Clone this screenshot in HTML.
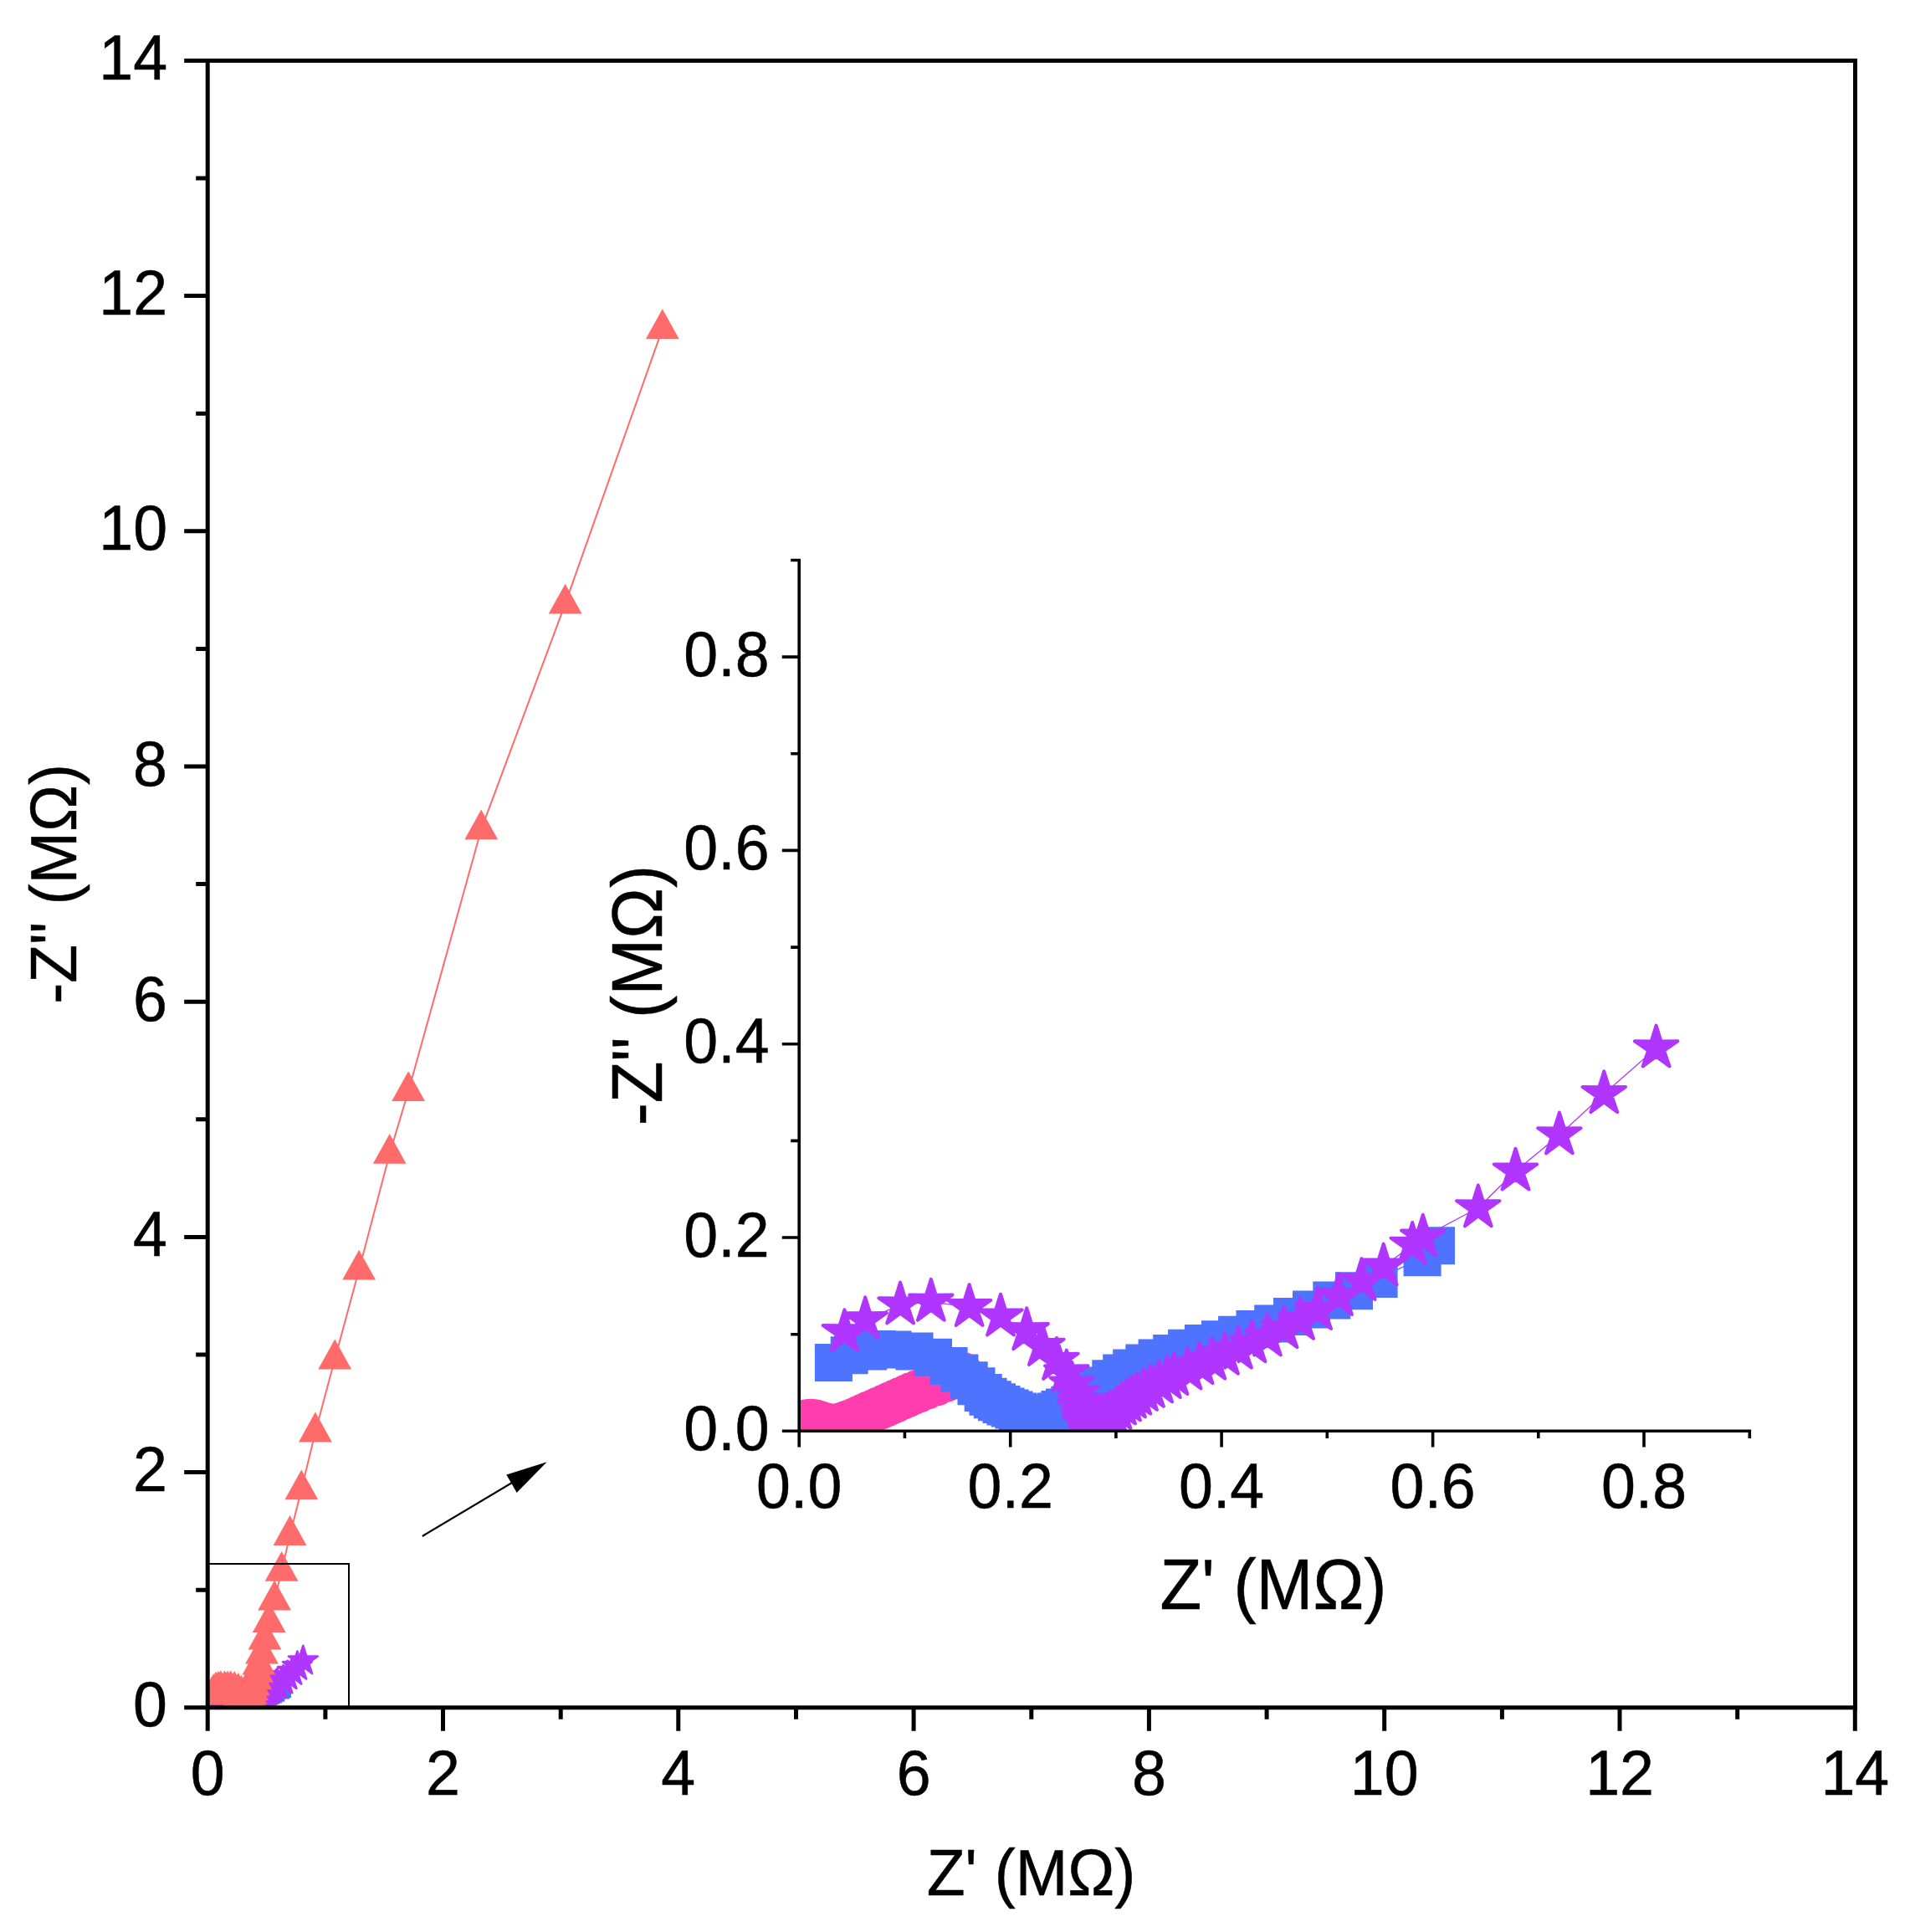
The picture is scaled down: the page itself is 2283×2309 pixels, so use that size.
<!DOCTYPE html>
<html lang="en"><head><meta charset="utf-8"><title>Nyquist plot</title>
<style>html,body{margin:0;padding:0;background:#fff}svg{display:block}</style></head>
<body>
<svg width="2283" height="2309" viewBox="0 0 2283 2309" role="img" aria-label="Nyquist plot with inset">
<rect width="2283" height="2309" fill="#fff"/>
<defs>
<clipPath id="cm"><rect x="248.2" y="72.5" width="1969.3" height="1968.3"/></clipPath>
<clipPath id="ci"><rect x="955.2" y="629.5" width="1176.1" height="1080.9"/></clipPath>
</defs>
<g clip-path="url(#cm)">
<polyline fill="none" stroke="#FF3DAE" stroke-width="1.3" points="248.3,2039.8 248.5,2039.6 248.7,2039.5 249.1,2039.4 249.4,2039.3 249.7,2039.3 250.1,2039.3 250.4,2039.4 250.7,2039.5 251.1,2039.6 251.4,2039.7 251.7,2039.8 252.1,2039.9 252.5,2040 252.9,2040 253.2,2039.9 253.6,2039.8 254.1,2039.7 254.5,2039.5 255.1,2039.3 255.6,2039 256.3,2038.7 256.9,2038.4 257.5,2038.1 258.2,2037.8 258.9,2037.5 259.7,2037.1 260.4,2036.7 261.1,2036.4 261.8,2036.1 262.6,2035.7 263.3,2035.4 264.1,2035 265.2,2034.5 266.5,2034 267.7,2033.5 268.8,2032.9 269.8,2032.4"/>
<path fill="#FF3DAE" fill-rule="nonzero" d="M231 2039.8a17.3 17.3 0 1 0 34.6 0a17.3 17.3 0 1 0 -34.6 0ZM231.2 2039.6a17.3 17.3 0 1 0 34.6 0a17.3 17.3 0 1 0 -34.6 0ZM231.4 2039.5a17.3 17.3 0 1 0 34.6 0a17.3 17.3 0 1 0 -34.6 0ZM231.8 2039.4a17.3 17.3 0 1 0 34.6 0a17.3 17.3 0 1 0 -34.6 0ZM232.1 2039.3a17.3 17.3 0 1 0 34.6 0a17.3 17.3 0 1 0 -34.6 0ZM232.4 2039.3a17.3 17.3 0 1 0 34.6 0a17.3 17.3 0 1 0 -34.6 0ZM232.8 2039.3a17.3 17.3 0 1 0 34.6 0a17.3 17.3 0 1 0 -34.6 0ZM233.1 2039.4a17.3 17.3 0 1 0 34.6 0a17.3 17.3 0 1 0 -34.6 0ZM233.4 2039.5a17.3 17.3 0 1 0 34.6 0a17.3 17.3 0 1 0 -34.6 0ZM233.8 2039.6a17.3 17.3 0 1 0 34.6 0a17.3 17.3 0 1 0 -34.6 0ZM234.1 2039.7a17.3 17.3 0 1 0 34.6 0a17.3 17.3 0 1 0 -34.6 0ZM234.4 2039.8a17.3 17.3 0 1 0 34.6 0a17.3 17.3 0 1 0 -34.6 0ZM234.8 2039.9a17.3 17.3 0 1 0 34.6 0a17.3 17.3 0 1 0 -34.6 0ZM235.2 2040a17.3 17.3 0 1 0 34.6 0a17.3 17.3 0 1 0 -34.6 0ZM235.6 2040a17.3 17.3 0 1 0 34.6 0a17.3 17.3 0 1 0 -34.6 0ZM235.9 2039.9a17.3 17.3 0 1 0 34.6 0a17.3 17.3 0 1 0 -34.6 0ZM236.3 2039.8a17.3 17.3 0 1 0 34.6 0a17.3 17.3 0 1 0 -34.6 0ZM236.8 2039.7a17.3 17.3 0 1 0 34.6 0a17.3 17.3 0 1 0 -34.6 0ZM237.2 2039.5a17.3 17.3 0 1 0 34.6 0a17.3 17.3 0 1 0 -34.6 0ZM237.8 2039.3a17.3 17.3 0 1 0 34.6 0a17.3 17.3 0 1 0 -34.6 0ZM238.3 2039a17.3 17.3 0 1 0 34.6 0a17.3 17.3 0 1 0 -34.6 0ZM239 2038.7a17.3 17.3 0 1 0 34.6 0a17.3 17.3 0 1 0 -34.6 0ZM239.6 2038.4a17.3 17.3 0 1 0 34.6 0a17.3 17.3 0 1 0 -34.6 0ZM240.2 2038.1a17.3 17.3 0 1 0 34.6 0a17.3 17.3 0 1 0 -34.6 0ZM240.9 2037.8a17.3 17.3 0 1 0 34.6 0a17.3 17.3 0 1 0 -34.6 0ZM241.6 2037.5a17.3 17.3 0 1 0 34.6 0a17.3 17.3 0 1 0 -34.6 0ZM242.4 2037.1a17.3 17.3 0 1 0 34.6 0a17.3 17.3 0 1 0 -34.6 0ZM243.1 2036.7a17.3 17.3 0 1 0 34.6 0a17.3 17.3 0 1 0 -34.6 0ZM243.8 2036.4a17.3 17.3 0 1 0 34.6 0a17.3 17.3 0 1 0 -34.6 0ZM244.5 2036.1a17.3 17.3 0 1 0 34.6 0a17.3 17.3 0 1 0 -34.6 0ZM245.3 2035.7a17.3 17.3 0 1 0 34.6 0a17.3 17.3 0 1 0 -34.6 0ZM246 2035.4a17.3 17.3 0 1 0 34.6 0a17.3 17.3 0 1 0 -34.6 0ZM246.8 2035a17.3 17.3 0 1 0 34.6 0a17.3 17.3 0 1 0 -34.6 0ZM247.9 2034.5a17.3 17.3 0 1 0 34.6 0a17.3 17.3 0 1 0 -34.6 0ZM249.2 2034a17.3 17.3 0 1 0 34.6 0a17.3 17.3 0 1 0 -34.6 0ZM250.4 2033.5a17.3 17.3 0 1 0 34.6 0a17.3 17.3 0 1 0 -34.6 0ZM251.5 2032.9a17.3 17.3 0 1 0 34.6 0a17.3 17.3 0 1 0 -34.6 0ZM252.5 2032.4a17.3 17.3 0 1 0 34.6 0a17.3 17.3 0 1 0 -34.6 0Z"/>
<polyline fill="none" stroke="#4D73FF" stroke-width="1.3" points="252.8,2030.9 254.9,2029.8 257.4,2029.2 258.6,2028.9 260.7,2029 263.6,2029.2 266.1,2030.1 268.1,2031.3 269.6,2032.4 270.8,2033.4 271.8,2034.3 272.7,2035.2 273.4,2035.8 273.9,2036.2 274.5,2036.6 275.1,2036.9 275.7,2037.2 276.3,2037.5 276.8,2037.7 277.3,2038 277.8,2038.2 278.3,2038.4 278.7,2038.7 279.2,2038.9 279.6,2039.2 280,2039.4 280.5,2039.2 280.9,2038.9 281.4,2038.6 281.9,2038.3 282.4,2038 282.9,2037.7 283.6,2037.4 284.3,2037 285.1,2036.5 286,2035.8 287.1,2035.1 288.3,2034.2 289.7,2033.2 291.2,2032.4 292.5,2031.6 294.2,2030.9 295.9,2030.2 297.8,2029.5 299.8,2028.8 302,2028 304.3,2027.5 306.5,2026.8 308.9,2026 311.3,2025.2 313.9,2024.2 316.4,2023.1 319.1,2021.8 322.1,2020.4 325.4,2018.7 331.2,2015.6 333,2013.9"/>
<path fill="#4D73FF" fill-rule="nonzero" d="M237.8 2015.9h30v30h-30ZM239.9 2014.8h30v30h-30ZM242.4 2014.2h30v30h-30ZM243.6 2013.9h30v30h-30ZM245.7 2014h30v30h-30ZM248.6 2014.2h30v30h-30ZM251.1 2015.1h30v30h-30ZM253.1 2016.3h30v30h-30ZM254.6 2017.4h30v30h-30ZM255.8 2018.4h30v30h-30ZM256.8 2019.3h30v30h-30ZM257.7 2020.2h30v30h-30ZM258.4 2020.8h30v30h-30ZM258.9 2021.2h30v30h-30ZM259.5 2021.6h30v30h-30ZM260.1 2021.9h30v30h-30ZM260.7 2022.2h30v30h-30ZM261.3 2022.5h30v30h-30ZM261.8 2022.7h30v30h-30ZM262.3 2023h30v30h-30ZM262.8 2023.2h30v30h-30ZM263.3 2023.4h30v30h-30ZM263.7 2023.7h30v30h-30ZM264.2 2023.9h30v30h-30ZM264.6 2024.2h30v30h-30ZM265 2024.4h30v30h-30ZM265.5 2024.2h30v30h-30ZM265.9 2023.9h30v30h-30ZM266.4 2023.6h30v30h-30ZM266.9 2023.3h30v30h-30ZM267.4 2023h30v30h-30ZM267.9 2022.7h30v30h-30ZM268.6 2022.4h30v30h-30ZM269.3 2022h30v30h-30ZM270.1 2021.5h30v30h-30ZM271 2020.8h30v30h-30ZM272.1 2020.1h30v30h-30ZM273.3 2019.2h30v30h-30ZM274.7 2018.2h30v30h-30ZM276.2 2017.4h30v30h-30ZM277.5 2016.6h30v30h-30ZM279.2 2015.9h30v30h-30ZM280.9 2015.2h30v30h-30ZM282.8 2014.5h30v30h-30ZM284.8 2013.8h30v30h-30ZM287 2013h30v30h-30ZM289.3 2012.5h30v30h-30ZM291.5 2011.8h30v30h-30ZM293.9 2011h30v30h-30ZM296.3 2010.2h30v30h-30ZM298.9 2009.2h30v30h-30ZM301.4 2008.1h30v30h-30ZM304.1 2006.8h30v30h-30ZM307.1 2005.4h30v30h-30ZM310.4 2003.7h30v30h-30ZM316.2 2000.6h30v30h-30ZM318 1998.9h30v30h-30Z"/>
<polyline fill="none" stroke="#B035FF" stroke-width="1.3" points="254.2,2026.4 257,2024.6 261.7,2022.5 265.8,2022 270.9,2022.8 275,2024.2 278.5,2026.2 280.6,2028.5 282.5,2030.5 283.8,2032.3 284.5,2034 285.2,2035.4 285.6,2036.5 285.9,2037.4 286.1,2038.2 286.2,2038.8 286.2,2039.3 286.3,2039.7 286.5,2039.9 286.8,2039.8 287.2,2039.7 287.7,2039.4 288.2,2039.2 288.7,2038.9 289.3,2038.6 290,2038.3 290.6,2037.7 291.2,2037 291.9,2036.6 292.5,2036.1 293.2,2035.6 294.1,2035 295,2034.6 296.1,2033.9 297.2,2033.2 298.1,2032.8 299.9,2032 301.5,2031.2 303.2,2030.5 304.9,2029.8 306.7,2028.9 308.5,2028 310.6,2027.1 312.7,2026 314.9,2024.7 317.3,2023.3 320,2021.2 323.1,2019 326,2016.9 329.9,2013.8 331.3,2012.6 338.6,2008.4 343.6,2003 349.5,1997.8 355.4,1991.8 362.3,1985.1"/>
<path fill="#B035FF" fill-rule="nonzero" stroke="#B035FF" stroke-width="2.7" stroke-linejoin="round" d="M254.2 2008.2L258.2 2021L271.5 2020.8L260.6 2028.5L264.9 2041.2L254.2 2033.2L243.5 2041.2L247.8 2028.5L236.9 2020.8L250.3 2021ZM257 2006.4L261 2019.2L274.3 2019L263.4 2026.7L267.7 2039.4L257 2031.4L246.3 2039.4L250.6 2026.7L239.7 2019L253 2019.2ZM261.7 2004.3L265.6 2017L279 2016.8L268.1 2024.6L272.4 2037.2L261.7 2029.2L251 2037.2L255.3 2024.6L244.4 2016.8L257.7 2017ZM265.8 2003.8L269.7 2016.6L283.1 2016.4L272.2 2024.1L276.5 2036.7L265.8 2028.8L255.1 2036.7L259.4 2024.1L248.5 2016.4L261.8 2016.6ZM270.9 2004.6L274.8 2017.3L288.2 2017.2L277.3 2024.9L281.6 2037.5L270.9 2029.5L260.2 2037.5L264.5 2024.9L253.6 2017.2L266.9 2017.3ZM275 2006L279 2018.7L292.3 2018.6L281.4 2026.3L285.7 2038.9L275 2030.9L264.3 2038.9L268.6 2026.3L257.7 2018.6L271.1 2018.7ZM278.5 2008L282.5 2020.8L295.8 2020.6L284.9 2028.3L289.2 2040.9L278.5 2033L267.8 2040.9L272.1 2028.3L261.2 2020.6L274.5 2020.8ZM280.6 2010.3L284.5 2023L297.9 2022.9L287 2030.6L291.3 2043.2L280.6 2035.2L269.9 2043.2L274.2 2030.6L263.3 2022.9L276.6 2023ZM282.5 2012.3L286.5 2025.1L299.8 2024.9L288.9 2032.6L293.2 2045.3L282.5 2037.3L271.8 2045.3L276.1 2032.6L265.2 2024.9L278.5 2025.1ZM283.8 2014.1L287.8 2026.9L301.1 2026.7L290.2 2034.4L294.5 2047L283.8 2039.1L273.1 2047L277.4 2034.4L266.5 2026.7L279.9 2026.9ZM284.5 2015.8L288.5 2028.6L301.8 2028.4L290.9 2036.1L295.2 2048.8L284.5 2040.8L273.8 2048.8L278.1 2036.1L267.2 2028.4L280.6 2028.6ZM285.2 2017.2L289.1 2030L302.5 2029.8L291.6 2037.5L295.9 2050.1L285.2 2042.1L274.5 2050.1L278.8 2037.5L267.9 2029.8L281.2 2030ZM285.6 2018.3L289.6 2031.1L302.9 2030.9L292 2038.6L296.3 2051.2L285.6 2043.2L274.9 2051.2L279.2 2038.6L268.3 2030.9L281.7 2031.1ZM285.9 2019.2L289.9 2032L303.2 2031.8L292.3 2039.5L296.6 2052.1L285.9 2044.1L275.2 2052.1L279.5 2039.5L268.6 2031.8L281.9 2032ZM286.1 2020L290 2032.8L303.4 2032.6L292.5 2040.3L296.8 2052.9L286.1 2044.9L275.4 2052.9L279.7 2040.3L268.8 2032.6L282.1 2032.8ZM286.2 2020.6L290.1 2033.4L303.5 2033.2L292.6 2040.9L296.9 2053.5L286.2 2045.5L275.5 2053.5L279.8 2040.9L268.9 2033.2L282.2 2033.4ZM286.2 2021.1L290.2 2033.9L303.5 2033.7L292.6 2041.4L296.9 2054L286.2 2046L275.5 2054L279.8 2041.4L268.9 2033.7L282.3 2033.9ZM286.3 2021.5L290.2 2034.3L303.6 2034.1L292.7 2041.8L297 2054.4L286.3 2046.5L275.6 2054.4L279.9 2041.8L269 2034.1L282.3 2034.3ZM286.5 2021.7L290.5 2034.5L303.8 2034.3L292.9 2042L297.2 2054.6L286.5 2046.6L275.8 2054.6L280.1 2042L269.2 2034.3L282.5 2034.5ZM286.8 2021.6L290.8 2034.4L304.2 2034.2L293.2 2041.9L297.5 2054.6L286.8 2046.6L276.1 2054.6L280.4 2041.9L269.5 2034.2L282.9 2034.4ZM287.2 2021.5L291.2 2034.2L304.5 2034L293.6 2041.7L297.9 2054.4L287.2 2046.4L276.5 2054.4L280.8 2041.7L269.9 2034L283.3 2034.2ZM287.7 2021.2L291.6 2034L305 2033.8L294.1 2041.5L298.4 2054.1L287.7 2046.2L277 2054.1L281.3 2041.5L270.4 2033.8L283.7 2034ZM288.2 2021L292.1 2033.7L305.5 2033.6L294.6 2041.3L298.9 2053.9L288.2 2045.9L277.5 2053.9L281.8 2041.3L270.9 2033.6L284.2 2033.7ZM288.7 2020.7L292.7 2033.4L306 2033.2L295.1 2041L299.4 2053.6L288.7 2045.6L278 2053.6L282.3 2041L271.4 2033.2L284.8 2033.4ZM289.3 2020.4L293.3 2033.2L306.6 2033L295.7 2040.7L300 2053.4L289.3 2045.4L278.6 2053.4L282.9 2040.7L272 2033L285.3 2033.2ZM290 2020.1L293.9 2032.9L307.3 2032.7L296.4 2040.4L300.7 2053.1L290 2045.1L279.3 2053.1L283.6 2040.4L272.7 2032.7L286 2032.9ZM290.6 2019.5L294.5 2032.3L307.9 2032.1L297 2039.8L301.3 2052.4L290.6 2044.5L279.9 2052.4L284.2 2039.8L273.3 2032.1L286.6 2032.3ZM291.2 2018.8L295.1 2031.6L308.5 2031.4L297.6 2039.1L301.9 2051.8L291.2 2043.8L280.5 2051.8L284.8 2039.1L273.9 2031.4L287.2 2031.6ZM291.9 2018.4L295.8 2031.1L309.2 2030.9L298.3 2038.6L302.6 2051.3L291.9 2043.3L281.2 2051.3L285.5 2038.6L274.5 2030.9L287.9 2031.1ZM292.5 2017.9L296.5 2030.6L309.8 2030.5L298.9 2038.2L303.2 2050.8L292.5 2042.8L281.8 2050.8L286.1 2038.2L275.2 2030.5L288.6 2030.6ZM293.2 2017.4L297.2 2030.2L310.5 2030L299.6 2037.7L303.9 2050.4L293.2 2042.4L282.5 2050.4L286.8 2037.7L275.9 2030L289.3 2030.2ZM294.1 2016.8L298 2029.6L311.4 2029.4L300.5 2037.1L304.8 2049.8L294.1 2041.8L283.4 2049.8L287.7 2037.1L276.8 2029.4L290.1 2029.6ZM295 2016.4L298.9 2029.1L312.3 2028.9L301.4 2036.6L305.7 2049.3L295 2041.3L284.3 2049.3L288.6 2036.6L277.7 2028.9L291 2029.1ZM296.1 2015.7L300.1 2028.4L313.4 2028.3L302.5 2036L306.8 2048.6L296.1 2040.6L285.4 2048.6L289.7 2036L278.8 2028.3L292.2 2028.4ZM297.2 2015L301.1 2027.8L314.5 2027.6L303.6 2035.3L307.9 2048L297.2 2040L286.5 2048L290.8 2035.3L279.9 2027.6L293.2 2027.8ZM298.1 2014.6L302.1 2027.3L315.4 2027.1L304.5 2034.8L308.8 2047.5L298.1 2039.5L287.4 2047.5L291.7 2034.8L280.8 2027.1L294.2 2027.3ZM299.9 2013.8L303.9 2026.5L317.2 2026.3L306.3 2034L310.6 2046.7L299.9 2038.7L289.2 2046.7L293.5 2034L282.6 2026.3L296 2026.5ZM301.5 2013L305.5 2025.7L318.8 2025.6L307.9 2033.3L312.2 2045.9L301.5 2037.9L290.8 2045.9L295.1 2033.3L284.2 2025.6L297.5 2025.7ZM303.2 2012.3L307.1 2025.1L320.5 2024.9L309.6 2032.6L313.9 2045.2L303.2 2037.3L292.5 2045.2L296.7 2032.6L285.8 2024.9L299.2 2025.1ZM304.9 2011.6L308.9 2024.3L322.2 2024.2L311.3 2031.9L315.6 2044.5L304.9 2036.5L294.2 2044.5L298.5 2031.9L287.6 2024.2L300.9 2024.3ZM306.7 2010.7L310.6 2023.5L324 2023.3L313.1 2031L317.4 2043.7L306.7 2035.7L296 2043.7L300.3 2031L289.4 2023.3L302.7 2023.5ZM308.5 2009.8L312.5 2022.6L325.8 2022.4L314.9 2030.1L319.2 2042.8L308.5 2034.8L297.8 2042.8L302.1 2030.1L291.2 2022.4L304.6 2022.6ZM310.6 2008.9L314.5 2021.6L327.9 2021.5L317 2029.2L321.3 2041.8L310.6 2033.8L299.9 2041.8L304.2 2029.2L293.3 2021.5L306.6 2021.6ZM312.7 2007.8L316.7 2020.5L330.1 2020.3L319.2 2028.1L323.4 2040.7L312.7 2032.7L302 2040.7L306.3 2028.1L295.4 2020.3L308.8 2020.5ZM314.9 2006.5L318.9 2019.3L332.2 2019.1L321.3 2026.8L325.6 2039.4L314.9 2031.4L304.2 2039.4L308.5 2026.8L297.6 2019.1L311 2019.3ZM317.3 2005.1L321.2 2017.8L334.6 2017.7L323.7 2025.4L328 2038L317.3 2030L306.6 2038L310.9 2025.4L300 2017.7L313.3 2017.8ZM320 2003L324 2015.8L337.4 2015.6L326.5 2023.3L330.7 2035.9L320 2027.9L309.3 2035.9L313.6 2023.3L302.7 2015.6L316.1 2015.8ZM323.1 2000.8L327.1 2013.6L340.4 2013.4L329.5 2021.1L333.8 2033.7L323.1 2025.8L312.4 2033.7L316.7 2021.1L305.8 2013.4L319.2 2013.6ZM326 1998.7L330 2011.4L343.3 2011.3L332.4 2019L336.7 2031.6L326 2023.6L315.3 2031.6L319.6 2019L308.7 2011.3L322.1 2011.4ZM329.9 1995.6L333.8 2008.3L347.2 2008.1L336.3 2015.8L340.6 2028.5L329.9 2020.5L319.2 2028.5L323.5 2015.8L312.6 2008.1L325.9 2008.3ZM331.3 1994.4L335.2 2007.2L348.6 2007L337.7 2014.7L342 2027.4L331.3 2019.4L320.6 2027.4L324.9 2014.7L314 2007L327.3 2007.2ZM338.6 1990.2L342.6 2002.9L355.9 2002.7L345 2010.4L349.3 2023.1L338.6 2015.1L327.9 2023.1L332.2 2010.4L321.3 2002.7L334.7 2002.9ZM343.6 1984.8L347.6 1997.6L360.9 1997.4L350 2005.1L354.3 2017.8L343.6 2009.8L332.9 2017.8L337.2 2005.1L326.3 1997.4L339.7 1997.6ZM349.5 1979.6L353.4 1992.3L366.8 1992.2L355.9 1999.9L360.1 2012.5L349.5 2004.5L338.8 2012.5L343 1999.9L332.1 1992.2L345.5 1992.3ZM355.4 1973.6L359.4 1986.4L372.7 1986.2L361.8 1993.9L366.1 2006.5L355.4 1998.5L344.7 2006.5L349 1993.9L338.1 1986.2L351.4 1986.4ZM362.3 1966.9L366.3 1979.7L379.7 1979.5L368.7 1987.2L373 1999.9L362.3 1991.9L351.6 1999.9L355.9 1987.2L345 1979.5L358.4 1979.7Z"/>
<polyline fill="none" stroke="#FF6B6B" stroke-width="2.0" points="791.8,393.1 675.6,721.6 575.2,991.3 488.1,1304.2 465.7,1378.9 429.1,1517.7 400.2,1624.5 376.9,1711.5 360.3,1780.4 346.5,1835 336.6,1877.9 328.1,1912.5 321.7,1939 316.5,1959.5 313,1976.7 309.4,1989.5 307.2,1998.9 305.2,2007.1 302.9,2014.5 301.2,2020.3 299.7,2024.9 298.6,2028.5 297.7,2031.3 297,2033.5 296,2036.2 295,2034.2 293.5,2031.7 291.5,2029.2 288.5,2026 284.8,2022.9 280.3,2020.9 275.6,2020.1 272,2020.5 268.5,2020.1 263.9,2020.1 261,2020.6 258,2021.7 255.2,2024.2 253,2027.7 251.5,2031.7 250.5,2035.7 249.8,2039.7 249.3,2042.7 249,2045.2"/>
<path fill="#FF6B6B" fill-rule="nonzero" d="M791.8 369.2L811.7 405L771.9 405ZM675.6 697.7L695.5 733.5L655.7 733.5ZM575.2 967.4L595.1 1003.2L555.3 1003.2ZM488.1 1280.3L508 1316.1L468.2 1316.1ZM465.7 1355L485.6 1390.8L445.8 1390.8ZM429.1 1493.8L449 1529.6L409.2 1529.6ZM400.2 1600.6L420.1 1636.4L380.3 1636.4ZM376.9 1687.6L396.8 1723.4L357 1723.4ZM360.3 1756.5L380.2 1792.3L340.4 1792.3ZM346.5 1811.1L366.4 1846.9L326.6 1846.9ZM336.6 1854L356.5 1889.8L316.7 1889.8ZM328.1 1888.6L348 1924.4L308.2 1924.4ZM321.7 1915.1L341.6 1950.9L301.8 1950.9ZM316.5 1935.6L336.4 1971.4L296.6 1971.4ZM313 1952.8L332.9 1988.6L293.1 1988.6ZM309.4 1965.6L329.3 2001.4L289.5 2001.4ZM307.2 1975L327.1 2010.8L287.3 2010.8ZM305.2 1983.2L325.1 2019L285.3 2019ZM302.9 1990.6L322.8 2026.4L283 2026.4ZM301.2 1996.4L321.1 2032.2L281.3 2032.2ZM299.7 2001L319.6 2036.8L279.8 2036.8ZM298.6 2004.6L318.5 2040.4L278.7 2040.4ZM297.7 2007.4L317.6 2043.2L277.8 2043.2ZM297 2009.6L316.9 2045.4L277.1 2045.4ZM296 2012.3L315.9 2048.1L276.1 2048.1ZM295 2010.3L314.9 2046.1L275.1 2046.1ZM293.5 2007.8L313.4 2043.6L273.6 2043.6ZM291.5 2005.3L311.4 2041.1L271.6 2041.1ZM288.5 2002.1L308.4 2037.9L268.6 2037.9ZM284.8 1999L304.7 2034.8L264.9 2034.8ZM280.3 1997L300.2 2032.8L260.4 2032.8ZM275.6 1996.2L295.5 2032L255.7 2032ZM272 1996.6L291.9 2032.4L252.1 2032.4ZM268.5 1996.2L288.4 2032L248.6 2032ZM263.9 1996.2L283.8 2032L244 2032ZM261 1996.7L280.9 2032.5L241.1 2032.5ZM258 1997.8L277.9 2033.6L238.1 2033.6ZM255.2 2000.3L275.1 2036.1L235.3 2036.1ZM253 2003.8L272.9 2039.6L233.1 2039.6ZM251.5 2007.8L271.4 2043.6L231.6 2043.6ZM250.5 2011.8L270.4 2047.6L230.6 2047.6ZM249.8 2015.8L269.7 2051.6L229.9 2051.6ZM249.3 2018.8L269.2 2054.6L229.4 2054.6ZM249 2021.3L268.9 2057.1L229.1 2057.1Z"/>
<rect x="250.3" y="2037.3" width="16.6" height="1.6" fill="#B035FF"/>
</g>
<path d="M248.2 1869H417V2040.8" fill="none" stroke="#000" stroke-width="2"/>
<line x1="504.8" y1="1836" x2="630" y2="1761.3" stroke="#000" stroke-width="2.2"/>
<path d="M653.7 1747.2L605.3 1762.4L617.7 1783.9Z" fill="#000"/>
<g stroke="#000" stroke-width="5" fill="none" stroke-linecap="butt">
<rect x="248.2" y="72.5" width="1969.3" height="1968.3"/>
<path d="M248.2 2040.8v28M248.2 2040.8h-28M388.9 2040.8v14M248.2 1900.2h-14M529.5 2040.8v28M248.2 1759.6h-28M670.2 2040.8v14M248.2 1619h-14M810.8 2040.8v28M248.2 1478.4h-28M951.5 2040.8v14M248.2 1337.8h-14M1092.1 2040.8v28M248.2 1197.2h-28M1232.8 2040.8v14M248.2 1056.6h-14M1373.4 2040.8v28M248.2 916h-28M1514.1 2040.8v14M248.2 775.4h-14M1654.7 2040.8v28M248.2 634.8h-28M1795.4 2040.8v14M248.2 494.2h-14M1936 2040.8v28M248.2 353.6h-28M2076.7 2040.8v14M248.2 213h-14M2217.3 2040.8v28M248.2 72.4h-28"/>
</g>
<g clip-path="url(#ci)">
<polyline fill="none" stroke="#FF3DAE" stroke-width="1.3" points="956,1702 958,1700.5 960,1699.5 963,1698.5 966,1698 969,1697.8 972,1698 975,1698.6 978,1699.5 981,1700.5 984,1701.5 987,1702.3 990,1703 993.5,1703.4 997,1703.5 1000.5,1703.2 1004,1702.5 1008,1701.3 1012,1699.8 1017,1697.9 1022,1695.9 1027.5,1693.4 1033,1690.9 1039,1688.2 1045.2,1685.7 1051,1683 1058,1680 1064.5,1677 1071,1674.2 1077.5,1671.3 1084,1668.5 1090.5,1665.6 1097.6,1662.7 1108,1658.4 1119,1654.4 1130,1649.9 1140,1645.4 1149,1641.3"/>
<path fill="#FF3DAE" fill-rule="nonzero" d="M930 1702a26 26 0 1 0 52 0a26 26 0 1 0 -52 0ZM932 1700.5a26 26 0 1 0 52 0a26 26 0 1 0 -52 0ZM934 1699.5a26 26 0 1 0 52 0a26 26 0 1 0 -52 0ZM937 1698.5a26 26 0 1 0 52 0a26 26 0 1 0 -52 0ZM940 1698a26 26 0 1 0 52 0a26 26 0 1 0 -52 0ZM943 1697.8a26 26 0 1 0 52 0a26 26 0 1 0 -52 0ZM946 1698a26 26 0 1 0 52 0a26 26 0 1 0 -52 0ZM949 1698.6a26 26 0 1 0 52 0a26 26 0 1 0 -52 0ZM952 1699.5a26 26 0 1 0 52 0a26 26 0 1 0 -52 0ZM955 1700.5a26 26 0 1 0 52 0a26 26 0 1 0 -52 0ZM958 1701.5a26 26 0 1 0 52 0a26 26 0 1 0 -52 0ZM961 1702.3a26 26 0 1 0 52 0a26 26 0 1 0 -52 0ZM964 1703a26 26 0 1 0 52 0a26 26 0 1 0 -52 0ZM967.5 1703.4a26 26 0 1 0 52 0a26 26 0 1 0 -52 0ZM971 1703.5a26 26 0 1 0 52 0a26 26 0 1 0 -52 0ZM974.5 1703.2a26 26 0 1 0 52 0a26 26 0 1 0 -52 0ZM978 1702.5a26 26 0 1 0 52 0a26 26 0 1 0 -52 0ZM982 1701.3a26 26 0 1 0 52 0a26 26 0 1 0 -52 0ZM986 1699.8a26 26 0 1 0 52 0a26 26 0 1 0 -52 0ZM991 1697.9a26 26 0 1 0 52 0a26 26 0 1 0 -52 0ZM996 1695.9a26 26 0 1 0 52 0a26 26 0 1 0 -52 0ZM1001.5 1693.4a26 26 0 1 0 52 0a26 26 0 1 0 -52 0ZM1007 1690.9a26 26 0 1 0 52 0a26 26 0 1 0 -52 0ZM1013 1688.2a26 26 0 1 0 52 0a26 26 0 1 0 -52 0ZM1019.2 1685.7a26 26 0 1 0 52 0a26 26 0 1 0 -52 0ZM1025 1683a26 26 0 1 0 52 0a26 26 0 1 0 -52 0ZM1032 1680a26 26 0 1 0 52 0a26 26 0 1 0 -52 0ZM1038.5 1677a26 26 0 1 0 52 0a26 26 0 1 0 -52 0ZM1045 1674.2a26 26 0 1 0 52 0a26 26 0 1 0 -52 0ZM1051.5 1671.3a26 26 0 1 0 52 0a26 26 0 1 0 -52 0ZM1058 1668.5a26 26 0 1 0 52 0a26 26 0 1 0 -52 0ZM1064.5 1665.6a26 26 0 1 0 52 0a26 26 0 1 0 -52 0ZM1071.6 1662.7a26 26 0 1 0 52 0a26 26 0 1 0 -52 0ZM1082 1658.4a26 26 0 1 0 52 0a26 26 0 1 0 -52 0ZM1093 1654.4a26 26 0 1 0 52 0a26 26 0 1 0 -52 0ZM1104 1649.9a26 26 0 1 0 52 0a26 26 0 1 0 -52 0ZM1114 1645.4a26 26 0 1 0 52 0a26 26 0 1 0 -52 0ZM1123 1641.3a26 26 0 1 0 52 0a26 26 0 1 0 -52 0Z"/>
<polyline fill="none" stroke="#4D73FF" stroke-width="1.3" points="996.4,1628.6 1015.2,1619.8 1037.7,1615.1 1048.2,1612.4 1067.1,1613 1093,1615.1 1115.5,1622.2 1134.1,1632.6 1146.9,1640.9 1158.2,1649.8 1167,1656.8 1175.2,1664.5 1181,1669.3 1186.3,1672.8 1191.5,1675.7 1197,1678.6 1202,1680.9 1207.2,1683 1212,1685 1216.5,1687 1221,1689 1225,1691 1229,1693 1233,1695 1237,1697 1241,1698.5 1245,1697 1249,1694.5 1253,1692 1257.5,1689.5 1262,1687 1267,1684.5 1272.5,1682 1278.8,1679.2 1286,1675 1294.5,1669.5 1304,1663.5 1315,1656 1327.8,1647.8 1340.7,1640.9 1352.7,1635 1367.8,1628.9 1383.1,1623 1400.7,1617.4 1418.6,1611.3 1438.4,1605.4 1458.5,1600.7 1478.6,1595.3 1500,1588.6 1521.7,1581.9 1544.5,1573.6 1567.5,1564.9 1591.8,1554 1618.5,1542.7 1648.1,1528.5 1700.1,1502.7 1716.5,1488.7"/>
<path fill="#4D73FF" fill-rule="nonzero" d="M973.9 1606.1h45v45h-45ZM992.7 1597.3h45v45h-45ZM1015.2 1592.6h45v45h-45ZM1025.7 1589.9h45v45h-45ZM1044.6 1590.5h45v45h-45ZM1070.5 1592.6h45v45h-45ZM1093 1599.7h45v45h-45ZM1111.6 1610.1h45v45h-45ZM1124.4 1618.4h45v45h-45ZM1135.7 1627.3h45v45h-45ZM1144.5 1634.3h45v45h-45ZM1152.7 1642h45v45h-45ZM1158.5 1646.8h45v45h-45ZM1163.8 1650.3h45v45h-45ZM1169 1653.2h45v45h-45ZM1174.5 1656.1h45v45h-45ZM1179.5 1658.4h45v45h-45ZM1184.7 1660.5h45v45h-45ZM1189.5 1662.5h45v45h-45ZM1194 1664.5h45v45h-45ZM1198.5 1666.5h45v45h-45ZM1202.5 1668.5h45v45h-45ZM1206.5 1670.5h45v45h-45ZM1210.5 1672.5h45v45h-45ZM1214.5 1674.5h45v45h-45ZM1218.5 1676h45v45h-45ZM1222.5 1674.5h45v45h-45ZM1226.5 1672h45v45h-45ZM1230.5 1669.5h45v45h-45ZM1235 1667h45v45h-45ZM1239.5 1664.5h45v45h-45ZM1244.5 1662h45v45h-45ZM1250 1659.5h45v45h-45ZM1256.3 1656.7h45v45h-45ZM1263.5 1652.5h45v45h-45ZM1272 1647h45v45h-45ZM1281.5 1641h45v45h-45ZM1292.5 1633.5h45v45h-45ZM1305.3 1625.3h45v45h-45ZM1318.2 1618.4h45v45h-45ZM1330.2 1612.5h45v45h-45ZM1345.3 1606.4h45v45h-45ZM1360.6 1600.5h45v45h-45ZM1378.2 1594.9h45v45h-45ZM1396.1 1588.8h45v45h-45ZM1415.9 1582.9h45v45h-45ZM1436 1578.2h45v45h-45ZM1456.1 1572.8h45v45h-45ZM1477.5 1566.1h45v45h-45ZM1499.2 1559.4h45v45h-45ZM1522 1551.1h45v45h-45ZM1545 1542.4h45v45h-45ZM1569.3 1531.5h45v45h-45ZM1596 1520.2h45v45h-45ZM1625.6 1506h45v45h-45ZM1677.6 1480.2h45v45h-45ZM1694 1466.2h45v45h-45Z"/>
<polyline fill="none" stroke="#B035FF" stroke-width="1.3" points="1009.4,1592.3 1034.2,1577.4 1076.1,1559.6 1112.8,1555.9 1158.6,1562.2 1196,1573.7 1227.2,1590.4 1245.9,1609 1263,1626 1274.8,1640.6 1281.3,1654.8 1287,1666 1291,1675 1293.5,1682.5 1295,1689 1296,1694 1296.5,1698 1297,1701.5 1299,1703 1302,1702.5 1305.5,1701 1309.5,1699 1314,1697 1319,1694.5 1324,1692.5 1330,1690 1335.5,1685 1341,1679.5 1347,1675.5 1353,1671.5 1359.3,1667.8 1367,1663 1375,1659 1385.2,1653.5 1394.8,1648.2 1403.4,1644.2 1419.5,1637.6 1433.6,1631.3 1448.4,1625.8 1464,1619.8 1480,1612.8 1496.5,1605.4 1514.9,1597.6 1534.5,1588.4 1554.1,1578 1575.1,1566.2 1600,1549.2 1627.5,1531.2 1653.7,1513.6 1688.2,1488 1700.8,1478.8 1766.8,1443.5 1811.5,1399.7 1863.9,1356.5 1917.3,1307.3 1979.6,1252.6"/>
<path fill="#B035FF" fill-rule="nonzero" stroke="#B035FF" stroke-width="4.0" stroke-linejoin="round" d="M1009.4 1565.3L1015.3 1584.2L1035.1 1584L1018.9 1595.4L1025.3 1614.1L1009.4 1602.3L993.5 1614.1L999.9 1595.4L983.7 1584L1003.5 1584.2ZM1034.2 1550.4L1040.1 1569.3L1059.9 1569.1L1043.7 1580.5L1050.1 1599.2L1034.2 1587.4L1018.3 1599.2L1024.7 1580.5L1008.5 1569.1L1028.3 1569.3ZM1076.1 1532.6L1082 1551.5L1101.8 1551.3L1085.6 1562.7L1092 1581.4L1076.1 1569.6L1060.2 1581.4L1066.6 1562.7L1050.4 1551.3L1070.2 1551.5ZM1112.8 1528.9L1118.7 1547.8L1138.5 1547.6L1122.3 1559L1128.7 1577.7L1112.8 1565.9L1096.9 1577.7L1103.3 1559L1087.1 1547.6L1106.9 1547.8ZM1158.6 1535.2L1164.5 1554.1L1184.3 1553.9L1168.1 1565.3L1174.5 1584L1158.6 1572.2L1142.7 1584L1149.1 1565.3L1132.9 1553.9L1152.7 1554.1ZM1196 1546.7L1201.9 1565.6L1221.7 1565.4L1205.5 1576.8L1211.9 1595.5L1196 1583.7L1180.1 1595.5L1186.5 1576.8L1170.3 1565.4L1190.1 1565.6ZM1227.2 1563.4L1233.1 1582.3L1252.9 1582.1L1236.7 1593.5L1243.1 1612.2L1227.2 1600.4L1211.3 1612.2L1217.7 1593.5L1201.5 1582.1L1221.3 1582.3ZM1245.9 1582L1251.8 1600.9L1271.6 1600.7L1255.4 1612.1L1261.8 1630.8L1245.9 1619L1230 1630.8L1236.4 1612.1L1220.2 1600.7L1240 1600.9ZM1263 1599L1268.9 1617.9L1288.7 1617.7L1272.5 1629.1L1278.9 1647.8L1263 1636L1247.1 1647.8L1253.5 1629.1L1237.3 1617.7L1257.1 1617.9ZM1274.8 1613.6L1280.7 1632.5L1300.5 1632.3L1284.3 1643.7L1290.7 1662.4L1274.8 1650.6L1258.9 1662.4L1265.3 1643.7L1249.1 1632.3L1268.9 1632.5ZM1281.3 1627.8L1287.2 1646.7L1307 1646.5L1290.8 1657.9L1297.2 1676.6L1281.3 1664.8L1265.4 1676.6L1271.8 1657.9L1255.6 1646.5L1275.4 1646.7ZM1287 1639L1292.9 1657.9L1312.7 1657.7L1296.5 1669.1L1302.9 1687.8L1287 1676L1271.1 1687.8L1277.5 1669.1L1261.3 1657.7L1281.1 1657.9ZM1291 1648L1296.9 1666.9L1316.7 1666.7L1300.5 1678.1L1306.9 1696.8L1291 1685L1275.1 1696.8L1281.5 1678.1L1265.3 1666.7L1285.1 1666.9ZM1293.5 1655.5L1299.4 1674.4L1319.2 1674.2L1303 1685.6L1309.4 1704.3L1293.5 1692.5L1277.6 1704.3L1284 1685.6L1267.8 1674.2L1287.6 1674.4ZM1295 1662L1300.9 1680.9L1320.7 1680.7L1304.5 1692.1L1310.9 1710.8L1295 1699L1279.1 1710.8L1285.5 1692.1L1269.3 1680.7L1289.1 1680.9ZM1296 1667L1301.9 1685.9L1321.7 1685.7L1305.5 1697.1L1311.9 1715.8L1296 1704L1280.1 1715.8L1286.5 1697.1L1270.3 1685.7L1290.1 1685.9ZM1296.5 1671L1302.4 1689.9L1322.2 1689.7L1306 1701.1L1312.4 1719.8L1296.5 1708L1280.6 1719.8L1287 1701.1L1270.8 1689.7L1290.6 1689.9ZM1297 1674.5L1302.9 1693.4L1322.7 1693.2L1306.5 1704.6L1312.9 1723.3L1297 1711.5L1281.1 1723.3L1287.5 1704.6L1271.3 1693.2L1291.1 1693.4ZM1299 1676L1304.9 1694.9L1324.7 1694.7L1308.5 1706.1L1314.9 1724.8L1299 1713L1283.1 1724.8L1289.5 1706.1L1273.3 1694.7L1293.1 1694.9ZM1302 1675.5L1307.9 1694.4L1327.7 1694.2L1311.5 1705.6L1317.9 1724.3L1302 1712.5L1286.1 1724.3L1292.5 1705.6L1276.3 1694.2L1296.1 1694.4ZM1305.5 1674L1311.4 1692.9L1331.2 1692.7L1315 1704.1L1321.4 1722.8L1305.5 1711L1289.6 1722.8L1296 1704.1L1279.8 1692.7L1299.6 1692.9ZM1309.5 1672L1315.4 1690.9L1335.2 1690.7L1319 1702.1L1325.4 1720.8L1309.5 1709L1293.6 1720.8L1300 1702.1L1283.8 1690.7L1303.6 1690.9ZM1314 1670L1319.9 1688.9L1339.7 1688.7L1323.5 1700.1L1329.9 1718.8L1314 1707L1298.1 1718.8L1304.5 1700.1L1288.3 1688.7L1308.1 1688.9ZM1319 1667.5L1324.9 1686.4L1344.7 1686.2L1328.5 1697.6L1334.9 1716.3L1319 1704.5L1303.1 1716.3L1309.5 1697.6L1293.3 1686.2L1313.1 1686.4ZM1324 1665.5L1329.9 1684.4L1349.7 1684.2L1333.5 1695.6L1339.9 1714.3L1324 1702.5L1308.1 1714.3L1314.5 1695.6L1298.3 1684.2L1318.1 1684.4ZM1330 1663L1335.9 1681.9L1355.7 1681.7L1339.5 1693.1L1345.9 1711.8L1330 1700L1314.1 1711.8L1320.5 1693.1L1304.3 1681.7L1324.1 1681.9ZM1335.5 1658L1341.4 1676.9L1361.2 1676.7L1345 1688.1L1351.4 1706.8L1335.5 1695L1319.6 1706.8L1326 1688.1L1309.8 1676.7L1329.6 1676.9ZM1341 1652.5L1346.9 1671.4L1366.7 1671.2L1350.5 1682.6L1356.9 1701.3L1341 1689.5L1325.1 1701.3L1331.5 1682.6L1315.3 1671.2L1335.1 1671.4ZM1347 1648.5L1352.9 1667.4L1372.7 1667.2L1356.5 1678.6L1362.9 1697.3L1347 1685.5L1331.1 1697.3L1337.5 1678.6L1321.3 1667.2L1341.1 1667.4ZM1353 1644.5L1358.9 1663.4L1378.7 1663.2L1362.5 1674.6L1368.9 1693.3L1353 1681.5L1337.1 1693.3L1343.5 1674.6L1327.3 1663.2L1347.1 1663.4ZM1359.3 1640.8L1365.2 1659.7L1385 1659.5L1368.8 1670.9L1375.2 1689.6L1359.3 1677.8L1343.4 1689.6L1349.8 1670.9L1333.6 1659.5L1353.4 1659.7ZM1367 1636L1372.9 1654.9L1392.7 1654.7L1376.5 1666.1L1382.9 1684.8L1367 1673L1351.1 1684.8L1357.5 1666.1L1341.3 1654.7L1361.1 1654.9ZM1375 1632L1380.9 1650.9L1400.7 1650.7L1384.5 1662.1L1390.9 1680.8L1375 1669L1359.1 1680.8L1365.5 1662.1L1349.3 1650.7L1369.1 1650.9ZM1385.2 1626.5L1391.1 1645.4L1410.9 1645.2L1394.7 1656.6L1401.1 1675.3L1385.2 1663.5L1369.3 1675.3L1375.7 1656.6L1359.5 1645.2L1379.3 1645.4ZM1394.8 1621.2L1400.7 1640.1L1420.5 1639.9L1404.3 1651.3L1410.7 1670L1394.8 1658.2L1378.9 1670L1385.3 1651.3L1369.1 1639.9L1388.9 1640.1ZM1403.4 1617.2L1409.3 1636.1L1429.1 1635.9L1412.9 1647.3L1419.3 1666L1403.4 1654.2L1387.5 1666L1393.9 1647.3L1377.7 1635.9L1397.5 1636.1ZM1419.5 1610.6L1425.4 1629.5L1445.2 1629.3L1429 1640.7L1435.4 1659.4L1419.5 1647.6L1403.6 1659.4L1410 1640.7L1393.8 1629.3L1413.6 1629.5ZM1433.6 1604.3L1439.5 1623.2L1459.3 1623L1443.1 1634.4L1449.5 1653.1L1433.6 1641.3L1417.7 1653.1L1424.1 1634.4L1407.9 1623L1427.7 1623.2ZM1448.4 1598.8L1454.3 1617.7L1474.1 1617.5L1457.9 1628.9L1464.3 1647.6L1448.4 1635.8L1432.5 1647.6L1438.9 1628.9L1422.7 1617.5L1442.5 1617.7ZM1464 1592.8L1469.9 1611.7L1489.7 1611.5L1473.5 1622.9L1479.9 1641.6L1464 1629.8L1448.1 1641.6L1454.5 1622.9L1438.3 1611.5L1458.1 1611.7ZM1480 1585.8L1485.9 1604.7L1505.7 1604.5L1489.5 1615.9L1495.9 1634.6L1480 1622.8L1464.1 1634.6L1470.5 1615.9L1454.3 1604.5L1474.1 1604.7ZM1496.5 1578.4L1502.4 1597.3L1522.2 1597.1L1506 1608.5L1512.4 1627.2L1496.5 1615.4L1480.6 1627.2L1487 1608.5L1470.8 1597.1L1490.6 1597.3ZM1514.9 1570.6L1520.8 1589.5L1540.6 1589.3L1524.4 1600.7L1530.8 1619.4L1514.9 1607.6L1499 1619.4L1505.4 1600.7L1489.2 1589.3L1509 1589.5ZM1534.5 1561.4L1540.4 1580.3L1560.2 1580.1L1544 1591.5L1550.4 1610.2L1534.5 1598.4L1518.6 1610.2L1525 1591.5L1508.8 1580.1L1528.6 1580.3ZM1554.1 1551L1560 1569.9L1579.8 1569.7L1563.6 1581.1L1570 1599.8L1554.1 1588L1538.2 1599.8L1544.6 1581.1L1528.4 1569.7L1548.2 1569.9ZM1575.1 1539.2L1581 1558.1L1600.8 1557.9L1584.6 1569.3L1591 1588L1575.1 1576.2L1559.2 1588L1565.6 1569.3L1549.4 1557.9L1569.2 1558.1ZM1600 1522.2L1605.9 1541.1L1625.7 1540.9L1609.5 1552.3L1615.9 1571L1600 1559.2L1584.1 1571L1590.5 1552.3L1574.3 1540.9L1594.1 1541.1ZM1627.5 1504.2L1633.4 1523.1L1653.2 1522.9L1637 1534.3L1643.4 1553L1627.5 1541.2L1611.6 1553L1618 1534.3L1601.8 1522.9L1621.6 1523.1ZM1653.7 1486.6L1659.6 1505.5L1679.4 1505.3L1663.2 1516.7L1669.6 1535.4L1653.7 1523.6L1637.8 1535.4L1644.2 1516.7L1628 1505.3L1647.8 1505.5ZM1688.2 1461L1694.1 1479.9L1713.9 1479.7L1697.7 1491.1L1704.1 1509.8L1688.2 1498L1672.3 1509.8L1678.7 1491.1L1662.5 1479.7L1682.3 1479.9ZM1700.8 1451.8L1706.7 1470.7L1726.5 1470.5L1710.3 1481.9L1716.7 1500.6L1700.8 1488.8L1684.9 1500.6L1691.3 1481.9L1675.1 1470.5L1694.9 1470.7ZM1766.8 1416.5L1772.7 1435.4L1792.5 1435.2L1776.3 1446.6L1782.7 1465.3L1766.8 1453.5L1750.9 1465.3L1757.3 1446.6L1741.1 1435.2L1760.9 1435.4ZM1811.5 1372.7L1817.4 1391.6L1837.2 1391.4L1821 1402.8L1827.4 1421.5L1811.5 1409.7L1795.6 1421.5L1802 1402.8L1785.8 1391.4L1805.6 1391.6ZM1863.9 1329.5L1869.8 1348.4L1889.6 1348.2L1873.4 1359.6L1879.8 1378.3L1863.9 1366.5L1848 1378.3L1854.4 1359.6L1838.2 1348.2L1858 1348.4ZM1917.3 1280.3L1923.2 1299.2L1943 1299L1926.8 1310.4L1933.2 1329.1L1917.3 1317.3L1901.4 1329.1L1907.8 1310.4L1891.6 1299L1911.4 1299.2ZM1979.6 1225.6L1985.5 1244.5L2005.3 1244.3L1989.1 1255.7L1995.5 1274.4L1979.6 1262.6L1963.7 1274.4L1970.1 1255.7L1953.9 1244.3L1973.7 1244.5Z"/>
</g>
<g stroke="#000" stroke-width="3.6" fill="none">
<path d="M955.2 667.7V1710.3H2093.1M955.2 1710.3v19.1M955.2 1710.3h-20.4M1081.4 1710.3v8.6M955.2 1594.7h-10M1207.7 1710.3v19.1M955.2 1479h-20.4M1333.9 1710.3v8.6M955.2 1363.4h-10M1460.1 1710.3v19.1M955.2 1247.8h-20.4M1586.3 1710.3v8.6M955.2 1132.1h-10M1712.6 1710.3v19.1M955.2 1016.4h-20.4M1838.8 1710.3v8.6M955.2 900.8h-10M1965 1710.3v19.1M955.2 785.1h-20.4M2091.3 1710.3v8.6M955.2 669.5h-10"/>
</g>
<g font-family="'Liberation Sans', Arial, sans-serif" fill="#000" stroke="#000" stroke-width="0.5">
<text transform="translate(248.2 2145) scale(1 1.04)" font-size="73.5" text-anchor="middle">0</text>
<text transform="translate(529.5 2145) scale(1 1.04)" font-size="73.5" text-anchor="middle">2</text>
<text transform="translate(810.8 2145) scale(1 1.04)" font-size="73.5" text-anchor="middle">4</text>
<text transform="translate(1092.1 2145) scale(1 1.04)" font-size="73.5" text-anchor="middle">6</text>
<text transform="translate(1373.4 2145) scale(1 1.04)" font-size="73.5" text-anchor="middle">8</text>
<text transform="translate(1654.7 2145) scale(1 1.04)" font-size="73.5" text-anchor="middle">10</text>
<text transform="translate(1936 2145) scale(1 1.04)" font-size="73.5" text-anchor="middle">12</text>
<text transform="translate(2217.3 2145) scale(1 1.04)" font-size="73.5" text-anchor="middle">14</text>
<text transform="translate(200 2063.3) scale(1 1.04)" font-size="73.5" text-anchor="end">0</text>
<text transform="translate(200 1782.1) scale(1 1.04)" font-size="73.5" text-anchor="end">2</text>
<text transform="translate(200 1500.9) scale(1 1.04)" font-size="73.5" text-anchor="end">4</text>
<text transform="translate(200 1219.7) scale(1 1.04)" font-size="73.5" text-anchor="end">6</text>
<text transform="translate(200 938.5) scale(1 1.04)" font-size="73.5" text-anchor="end">8</text>
<text transform="translate(200 657.3) scale(1 1.04)" font-size="73.5" text-anchor="end">10</text>
<text transform="translate(200 376.1) scale(1 1.04)" font-size="73.5" text-anchor="end">12</text>
<text transform="translate(200 94.9) scale(1 1.04)" font-size="73.5" text-anchor="end">14</text>
<text transform="translate(1232.5 2265.2) scale(1 1.04)" font-size="75" text-anchor="middle">Z' (MΩ)</text>
<text transform="translate(91 1056.3) rotate(-90) scale(1 1.04)" font-size="75" text-anchor="middle">-Z" (MΩ)</text>
<text transform="translate(955.2 1802.3) scale(1 1.04)" font-size="73.5" text-anchor="middle">0.0</text>
<text transform="translate(1207.7 1802.3) scale(1 1.04)" font-size="73.5" text-anchor="middle">0.2</text>
<text transform="translate(1460.1 1802.3) scale(1 1.04)" font-size="73.5" text-anchor="middle">0.4</text>
<text transform="translate(1712.6 1802.3) scale(1 1.04)" font-size="73.5" text-anchor="middle">0.6</text>
<text transform="translate(1965 1802.3) scale(1 1.04)" font-size="73.5" text-anchor="middle">0.8</text>
<text transform="translate(919.5 1732.8) scale(1 1.04)" font-size="73.5" text-anchor="end">0.0</text>
<text transform="translate(919.5 1501.5) scale(1 1.04)" font-size="73.5" text-anchor="end">0.2</text>
<text transform="translate(919.5 1270.2) scale(1 1.04)" font-size="73.5" text-anchor="end">0.4</text>
<text transform="translate(919.5 1038.9) scale(1 1.04)" font-size="73.5" text-anchor="end">0.6</text>
<text transform="translate(919.5 807.6) scale(1 1.04)" font-size="73.5" text-anchor="end">0.8</text>
<text transform="translate(1522 1923.3) scale(1 1.04)" font-size="81.5" text-anchor="middle">Z' (MΩ)</text>
<text transform="translate(790.5 1189.6) rotate(-90) scale(1 1.04)" font-size="81.5" text-anchor="middle">-Z" (MΩ)</text>
</g>
</svg>
</body></html>
